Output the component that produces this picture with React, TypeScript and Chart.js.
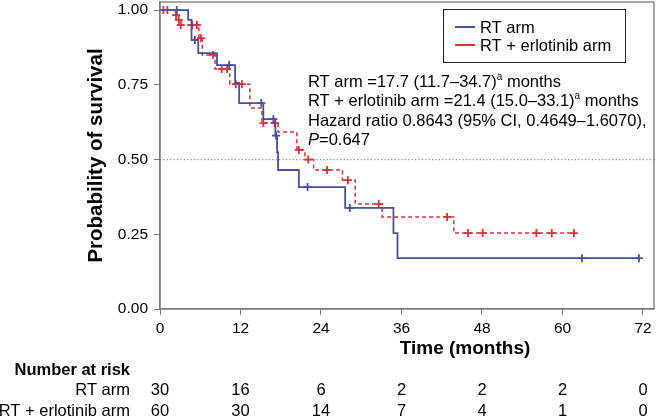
import React, { useEffect, useRef } from "react";
import { Chart, registerables } from "chart.js";
Chart.register(...registerables);

// ---------- data ----------
const xTickValues = [0, 12, 24, 36, 48, 60, 72];
const yTickValues = [0, 0.25, 0.5, 0.75, 1.0];

// RT arm (Kaplan-Meier steps: time of change, survival after change)
const rtTimes = [0, 4.2, 4.7, 5.7, 8.5, 11.2, 11.8, 15.4, 17.2, 17.45, 17.6, 20.7, 27.6, 34.8, 35.4, 71.4];
const rtSurv = [1.0, 0.967, 0.9, 0.856, 0.816, 0.756, 0.689, 0.635, 0.58, 0.525, 0.465, 0.408, 0.338, 0.254, 0.17, 0.17];
const rtCensor = [2.5, 5.2, 10.3, 15.1, 16.9, 17.3, 22.0, 28.3, 62.9, 71.4];

// RT + erlotinib arm
const erlTimes = [0, 2.3, 2.8, 3.1, 5.8, 6.3, 8.2, 10.4, 13.4, 15.2, 17.6, 20.4, 21.6, 22.9, 27.2, 29.1, 33.1, 43.8, 61.7];
const erlSurv = [1.0, 0.983, 0.967, 0.95, 0.906, 0.85, 0.803, 0.752, 0.672, 0.622, 0.592, 0.532, 0.5, 0.465, 0.431, 0.351, 0.308, 0.254, 0.254];
const erlCensor = [0.5, 1.1, 2.4, 2.8, 3.1, 4.8, 5.5, 6.1, 7.9, 9.2, 10.0, 11.3, 12.2, 15.4, 17.1, 20.7, 22.1, 24.9, 28.0, 32.6, 42.8, 45.9, 48.1, 56.1, 58.4, 61.7];

const refLineValue = 0.5;

const seriesNames = ["RT arm", "RT + erlotinib arm"];
const riskTimes = [0, 12, 24, 36, 48, 60, 72];
const riskRT = [30, 16, 6, 2, 2, 2, 0];
const riskErl = [60, 30, 14, 7, 4, 1, 0];

const xTitle = "Time (months)";
const yTitle = "Probability of survival";

// annotation text segments
const annotationLines = [
  [{ t: "RT arm =17.7 (11.7–34.7)" }, { t: "a", sup: true }, { t: " months" }],
  [{ t: "RT + erlotinib arm =21.4 (15.0–33.1)" }, { t: "a", sup: true }, { t: " months" }],
  [{ t: "Hazard ratio 0.8643 (95% CI, 0.4649–1.6070)," }],
  [{ t: "P", it: true }, { t: "=0.647" }],
];

// ---------- helpers ----------
const FONT = "'Liberation Sans', Arial, Helvetica, sans-serif";
const BLUE = "#4452a6";
const RED = "#e0303a";
const GREY = "#7a7a7a";

function stepValue(times: number[], surv: number[], t: number) {
  let s = surv[0];
  for (let i = 0; i < times.length; i++) if (times[i] <= t) s = surv[i];
  return s;
}
const toPts = (xs: number[], ys: number[]) => xs.map((x, i) => ({ x, y: ys[i] }));
const censorPts = (c: number[], times: number[], surv: number[]) =>
  c.map((t) => ({ x: t, y: stepValue(times, surv, t) }));

const overlayPlugin = {
  id: "overlay",
  afterDraw(chart: any) {
    const { ctx, chartArea, scales } = chart;
    const xs = scales.x;
    ctx.save();
    // frame
    ctx.strokeStyle = GREY;
    ctx.lineWidth = 1.3;
    ctx.strokeRect(chartArea.left, chartArea.top, chartArea.right - chartArea.left, chartArea.bottom - chartArea.top);

    // legend
    const lx = 443.5, ly = 9.5, lw = 182, lh = 53;
    ctx.fillStyle = "#fff";
    ctx.fillRect(lx, ly, lw, lh);
    ctx.strokeStyle = "#222";
    ctx.lineWidth = 1;
    ctx.strokeRect(lx, ly, lw, lh);
    ctx.font = `16.5px ${FONT}`;
    ctx.textBaseline = "middle";
    ctx.textAlign = "left";
    const legendCols = [BLUE, RED];
    [27, 45].forEach((yy, i) => {
      ctx.strokeStyle = legendCols[i];
      ctx.lineWidth = 2;
      ctx.beginPath();
      ctx.moveTo(455, yy);
      ctx.lineTo(475, yy);
      ctx.stroke();
      ctx.fillStyle = "#000";
      ctx.fillText(seriesNames[i], 480, yy + 1);
    });

    // annotation
    const ys = [82, 101.5, 121, 140.5];
    annotationLines.forEach((segs, li) => {
      let x = 308;
      segs.forEach((s: any) => {
        if (s.sup) {
          ctx.font = `10px ${FONT}`;
          ctx.fillText(s.t, x, ys[li] - 5);
        } else {
          ctx.font = `${s.it ? "italic " : ""}16.5px ${FONT}`;
          ctx.fillText(s.t, x, ys[li]);
        }
        x += ctx.measureText(s.t).width;
      });
    });

    // x title
    ctx.font = `bold 19px ${FONT}`;
    ctx.textAlign = "center";
    ctx.fillStyle = "#000";
    ctx.fillText(xTitle, 465, 349);

    // number at risk table
    ctx.textAlign = "right";
    ctx.font = `bold 16.5px ${FONT}`;
    ctx.fillText("Number at risk", 130, 370);
    ctx.font = `16.5px ${FONT}`;
    ctx.fillText(seriesNames[0], 130, 390);
    ctx.fillText(seriesNames[1], 130, 411);
    ctx.textAlign = "center";
    riskTimes.forEach((t, i) => {
      const px = xs.getPixelForValue(t);
      ctx.fillText(String(riskRT[i]), px, 390);
      ctx.fillText(String(riskErl[i]), px, 411);
    });
    ctx.restore();
  },
};

export default function App() {
  const ref = useRef<HTMLCanvasElement>(null);
  useEffect(() => {
    if (!ref.current) return;
    Chart.defaults.font.family = FONT;
    Chart.defaults.color = "#000";
    const chart = new Chart(ref.current, {
      type: "scatter",
      data: {
        datasets: [
          {
            label: seriesNames[0],
            data: toPts(rtTimes, rtSurv),
            showLine: true,
            stepped: "before",
            borderColor: BLUE,
            borderWidth: 1.8,
            pointRadius: 0,
            order: 1,
          } as any,
          {
            label: seriesNames[1],
            data: toPts(erlTimes, erlSurv),
            showLine: true,
            stepped: "before",
            borderColor: RED,
            borderWidth: 1.5,
            borderDash: [4, 3],
            pointRadius: 0,
            order: 3,
          } as any,
          {
            label: "rt-censor",
            data: censorPts(rtCensor, rtTimes, rtSurv),
            pointStyle: "cross",
            pointRadius: 4,
            borderColor: BLUE,
            borderWidth: 1.8,
            order: 0,
          } as any,
          {
            label: "erl-censor",
            data: censorPts(erlCensor, erlTimes, erlSurv),
            pointStyle: "cross",
            pointRadius: 4,
            borderColor: RED,
            borderWidth: 1.8,
            order: 2,
          } as any,
          {
            label: "ref",
            data: [
              { x: 0, y: refLineValue },
              { x: 73.64, y: refLineValue },
            ],
            showLine: true,
            borderColor: "#8a8a8a",
            borderWidth: 1.2,
            borderDash: [1.2, 2.2],
            pointRadius: 0,
            order: 5,
          } as any,
        ],
      },
      options: {
        animation: false,
        responsive: false,
        layout: { autoPadding: false, padding: { left: 0, right: 2, top: 2, bottom: 0 } },
        plugins: { legend: { display: false }, tooltip: { enabled: false } },
        scales: {
          x: {
            type: "linear",
            min: 0,
            max: 73.64,
            afterBuildTicks: (s: any) => {
              s.ticks = xTickValues.map((v) => ({ value: v }));
            },
            afterFit: (s: any) => {
              s.height = 110;
              s.paddingLeft = 0;
              s.paddingRight = 0;
            },
            ticks: { font: { size: 15.5 }, padding: 4, color: "#000", maxRotation: 0 },
            grid: { drawOnChartArea: false, drawTicks: true, tickLength: 6, color: GREY },
            border: { display: true, color: GREY, width: 1.3 },
          },
          y: {
            type: "linear",
            min: 0,
            max: 1.027,
            afterBuildTicks: (s: any) => {
              s.ticks = yTickValues.map((v) => ({ value: v }));
            },
            afterFit: (s: any) => {
              s.width = 160;
              s.paddingTop = 0;
              s.paddingBottom = 0;
            },
            ticks: {
              font: { size: 15.5 },
              padding: 6,
              color: "#000",
              callback: (v: any) => Number(v).toFixed(2),
            },
            grid: { drawOnChartArea: false, drawTicks: true, tickLength: 6, color: GREY },
            border: { display: true, color: GREY, width: 1.3 },
            title: {
              display: true,
              text: yTitle,
              font: { size: 20.5, weight: "bold" },
              color: "#000",
              padding: { top: 84, bottom: 0 },
            },
          },
        },
      },
      plugins: [overlayPlugin],
    });
    return () => chart.destroy();
  }, []);
  return (
    <div style={{ position: "fixed", left: 0, top: 0, width: 656, height: 419, background: "#fff" }}>
      <canvas ref={ref} width={656} height={419} style={{ width: 656, height: 419, display: "block" }} />
    </div>
  );
}
